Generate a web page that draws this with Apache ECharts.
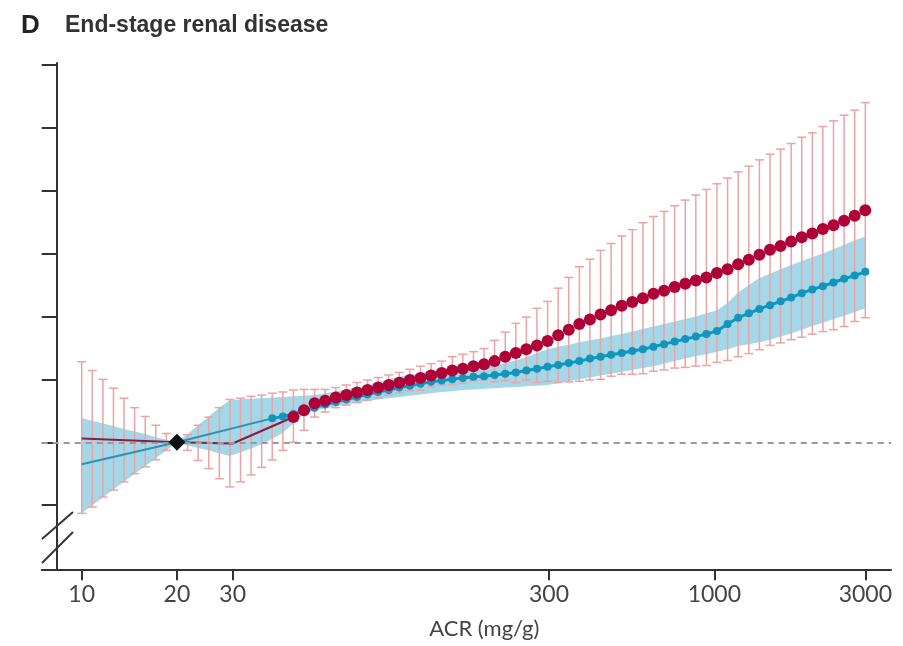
<!DOCTYPE html>
<html>
<head>
<meta charset="utf-8">
<script src="https://cdn.jsdelivr.net/npm/echarts@6/dist/echarts.min.js"></script>
<style>
  html, body { margin: 0; padding: 0; background: #fff; }
  #main { width: 903px; height: 646px; }
</style>
</head>
<body>
<div id="main"></div>
<script>
// ACR grid points (mg/g)
const acr = [10, 10.8, 11.67, 12.6, 13.61, 14.7, 15.88, 17.15, 18.52, 20,
  21.61, 23.34, 25.21, 27.23, 29.41, 31.77, 34.31, 37.06, 40.03, 43.24,
  46.7, 50.44, 54.48, 58.85, 63.56, 68.66, 74.16, 80.1, 86.52, 93.45,
  100.9, 109, 117.8, 127.2, 137.4, 148.4, 160.3, 173.1, 187, 202,
  218.2, 235.7, 254.5, 274.9, 297, 320.8, 346.5, 374.2, 404.2, 436.6,
  471.6, 509.4, 550.2, 594.3, 641.9, 693.3, 748.9, 808.9, 873.7, 943.7,
  1019, 1101, 1189, 1285, 1388, 1499, 1619, 1749, 1889, 2040,
  2203, 2380, 2571, 2777, 3000];

// red estimate: confidence limits at every grid point (null = reference)
const redHi = [1.28, 1.14, 1.00, 0.86, 0.70, 0.55, 0.41, 0.27, 0.14, null,
  0.12, 0.27, 0.40, 0.55, 0.68, 0.70, 0.73, 0.75, 0.78, 0.80,
  0.83, 0.84, 0.84, 0.84, 0.87, 0.91, 0.95, 0.99, 1.03, 1.07,
  1.11, 1.16, 1.21, 1.25, 1.29, 1.36, 1.40, 1.44, 1.49, 1.62,
  1.75, 1.89, 1.99, 2.13, 2.24, 2.45, 2.62, 2.79, 2.91, 3.05,
  3.16, 3.28, 3.38, 3.49, 3.59, 3.67, 3.76, 3.85, 3.93, 4.02,
  4.11, 4.20, 4.30, 4.39, 4.49, 4.58, 4.66, 4.75, 4.85, 4.92,
  5.02, 5.11, 5.20, 5.28, 5.40];
const redLo = [-1.13, -1.03, -0.87, -0.76, -0.63, -0.50, -0.39, -0.28, -0.13, null,
  -0.13, -0.29, -0.42, -0.58, -0.71, -0.63, -0.52, -0.40, -0.28, -0.13,
  0.00, 0.19, 0.40, 0.48, 0.55, 0.59, 0.63, 0.67, 0.71, 0.75,
  0.78, 0.82, 0.83, 0.88, 0.91, 0.92, 0.94, 0.98, 0.99, 0.96,
  0.98, 0.95, 0.99, 0.95, 0.97, 0.95, 0.96, 0.97, 0.99, 1.00,
  1.05, 1.08, 1.08, 1.09, 1.13, 1.15, 1.18, 1.19, 1.21, 1.22,
  1.27, 1.30, 1.36, 1.41, 1.47, 1.54, 1.58, 1.63, 1.67, 1.72,
  1.76, 1.79, 1.84, 1.92, 1.98];
// red dots from the 20th grid point on
const redDots = [0.40, 0.51, 0.62, 0.66, 0.71, 0.75, 0.79, 0.83, 0.87, 0.91,
  0.945, 0.99, 1.02, 1.06, 1.10, 1.14, 1.17, 1.21, 1.24, 1.29,
  1.36, 1.42, 1.48, 1.54, 1.61, 1.70, 1.79, 1.88, 1.95, 2.03,
  2.10, 2.17, 2.23, 2.29, 2.36, 2.41, 2.47, 2.52, 2.57, 2.62,
  2.69, 2.75, 2.83, 2.90, 2.98, 3.06, 3.12, 3.19, 3.26, 3.32,
  3.39, 3.45, 3.52, 3.60, 3.69];
const redLineAcr = [10, 20, 30, 46.7];
const redLineVal = [0.06, 0, -0.02, 0.40];

// blue estimate
const blueLineAcr = [10, 20, 40.03];
const blueLineVal = [-0.35, 0, 0.38];
// blue dots from the 18th grid point on
const blueDots = [0.38, 0.41,
  0.45, 0.50, 0.55, 0.60, 0.64, 0.68, 0.72, 0.76, 0.80, 0.83,
  0.87, 0.90, 0.93, 0.96, 0.98, 1.00, 1.02, 1.04, 1.05, 1.07,
  1.09, 1.11, 1.14, 1.17, 1.20, 1.23, 1.26, 1.29, 1.33, 1.36,
  1.39, 1.42, 1.45, 1.48, 1.52, 1.56, 1.60, 1.64, 1.68, 1.72,
  1.77, 1.88, 1.98, 2.05, 2.12, 2.18, 2.24, 2.30, 2.37, 2.43,
  2.48, 2.54, 2.60, 2.65, 2.71];
const blueHi = [0.38, 0.34, 0.30, 0.26, 0.21, 0.17, 0.13, 0.08, 0.04, 0.00,
  0.13, 0.27, 0.41, 0.55, 0.67, 0.68, 0.69, 0.70, 0.71, 0.72,
  0.73, 0.74, 0.75, 0.78, 0.81, 0.84, 0.87, 0.90, 0.95, 1.00,
  1.04, 1.07, 1.10, 1.13, 1.15, 1.18, 1.20, 1.21, 1.22, 1.23,
  1.26, 1.30, 1.35, 1.42, 1.48, 1.52, 1.55, 1.59, 1.62, 1.65,
  1.69, 1.72, 1.76, 1.80, 1.84, 1.88, 1.92, 1.96, 2.00, 2.05,
  2.10, 2.22, 2.38, 2.50, 2.61, 2.68, 2.75, 2.82, 2.88, 2.94,
  3.00, 3.07, 3.14, 3.21, 3.27];
const blueLo = [-1.13, -1.00, -0.88, -0.75, -0.63, -0.50, -0.38, -0.25, -0.13, 0.00,
  -0.05, -0.09, -0.13, -0.18, -0.22, -0.16, -0.10, -0.03, 0.05, 0.15,
  0.30, 0.45, 0.50, 0.54, 0.57, 0.60, 0.63, 0.66, 0.68, 0.70,
  0.72, 0.74, 0.76, 0.78, 0.80, 0.81, 0.83, 0.84, 0.85, 0.86,
  0.87, 0.88, 0.89, 0.90, 0.91, 0.94, 0.97, 1.00, 1.03, 1.06,
  1.09, 1.12, 1.15, 1.18, 1.21, 1.25, 1.29, 1.33, 1.37, 1.40,
  1.44, 1.48, 1.53, 1.56, 1.59, 1.63, 1.68, 1.73, 1.79, 1.85,
  1.90, 1.96, 2.01, 2.07, 2.13];

const xTicks = [10, 20, 30, 300, 1000, 3000];
const yTicks = [-1, 0, 1, 2, 3, 4, 5, 6];
const refPoint = [20, 0];

const chart = echarts.init(document.getElementById('main'));

const errData = [];
acr.forEach((a, i) => { if (redHi[i] != null) errData.push([a, redLo[i], redHi[i]]); });
const bandData = acr.map((a, i) => [a, blueLo[i], blueHi[i]]);

const option = {
  animation: false,
  textStyle: { fontFamily: 'Lato, "Noto Sans", sans-serif' },
  title: {
    left: 16, top: 8,
    text: '{d|D}{t|End-stage renal disease}',
    textStyle: {
      rich: {
        d: { fontSize: 26, fontWeight: 'bold', color: '#222', width: 44, fontFamily: '"Liberation Sans", sans-serif' },
        t: { fontSize: 23, fontWeight: 'bold', color: '#333', fontFamily: '"Liberation Sans", sans-serif' }
      }
    }
  },
  grid: { left: 41.7, right: 12, top: 63, bottom: 76.7, outerBoundsMode: 'none' },
  xAxis: {
    type: 'log', logBase: 10, min: 7.474, max: 3617,
    name: 'ACR (mg/g)', nameLocation: 'middle', nameGap: 49,
    nameTextStyle: { fontSize: 22, color: '#444', padding: [0, 0, 0, 36] },
    axisLine: { onZero: false, lineStyle: { color: '#333', width: 2 } },
    axisTick: { length: 11, lineStyle: { color: '#333', width: 2 }, customValues: xTicks },
    axisLabel: { fontSize: 23, color: '#444', margin: 14, customValues: xTicks, formatter: v => String(v) },
    splitLine: { show: false }, minorTick: { show: false }
  },
  yAxis: {
    type: 'value', min: -2.02, max: 6.03, offset: -15,
    axisLine: { show: true, onZero: false, lineStyle: { color: '#333', width: 2 } },
    axisTick: { show: true, length: 15, lineStyle: { color: '#333', width: 2 }, customValues: yTicks },
    axisLabel: { show: false },
    splitLine: { show: false }
  },
  series: [
    {
      // blue confidence band
      type: 'custom', z: 1, silent: true,
      data: bandData,
      renderItem(params, api) {
        if (params.dataIndex !== 0) return null;
        const up = bandData.map(d => api.coord([d[0], d[2]]));
        const dn = bandData.map(d => api.coord([d[0], d[1]])).reverse();
        return { type: 'polygon', shape: { points: up.concat(dn) }, style: { fill: '#a4d7e7' } };
      }
    },
    {
      // red error bars
      type: 'custom', z: 2, silent: true,
      data: errData,
      encode: { x: 0, y: [1, 2] },
      renderItem(params, api) {
        const top = api.coord([api.value(0), api.value(2)]);
        const bot = api.coord([api.value(0), api.value(1)]);
        const w = 4.5;
        const st = { stroke: '#eba3a3', lineWidth: 1.5 };
        return { type: 'group', children: [
          { type: 'line', shape: { x1: top[0], y1: top[1], x2: bot[0], y2: bot[1] }, style: st },
          { type: 'line', shape: { x1: top[0] - w, y1: top[1], x2: top[0] + w, y2: top[1] }, style: st },
          { type: 'line', shape: { x1: bot[0] - w, y1: bot[1], x2: bot[0] + w, y2: bot[1] }, style: st }
        ] };
      },
      markLine: {
        silent: true, symbol: 'none', label: { show: false },
        lineStyle: { type: [6, 5], color: '#9a9a9a', width: 2 },
        data: [{ yAxis: 0 }]
      }
    },
    {
      type: 'line', z: 3, silent: true, showSymbol: false,
      data: blueLineAcr.map((a, i) => [a, blueLineVal[i]]),
      lineStyle: { color: '#2a92b3', width: 2 }
    },
    {
      type: 'line', z: 3, silent: true, showSymbol: false,
      data: redLineAcr.map((a, i) => [a, redLineVal[i]]),
      lineStyle: { color: '#8a1c46', width: 2.2 }
    },
    {
      type: 'line', z: 4, silent: true,
      data: acr.slice(18).map((a, i) => [a, blueDots[i]]),
      symbol: 'circle', symbolSize: 8, showSymbol: true,
      itemStyle: { color: '#1295bc' },
      lineStyle: { color: '#1295bc', width: 3 }
    },
    {
      type: 'scatter', z: 5, silent: true,
      data: acr.slice(20).map((a, i) => [a, redDots[i]]),
      symbol: 'circle', symbolSize: 12,
      itemStyle: { color: '#b00038', opacity: 1 }
    },
    {
      type: 'scatter', z: 6, silent: true,
      data: [refPoint],
      symbol: 'diamond', symbolSize: [17, 17],
      itemStyle: { color: '#111', opacity: 1 }
    }
  ],
  graphic: [
    // axis break marks
    { type: 'line', z: 10, shape: { x1: 42, y1: 539, x2: 73, y2: 512 }, style: { stroke: '#333', lineWidth: 2 } },
    { type: 'line', z: 10, shape: { x1: 42, y1: 563, x2: 73, y2: 532 }, style: { stroke: '#333', lineWidth: 2 } }
  ]
};

chart.setOption(option);
</script>
</body>
</html>
